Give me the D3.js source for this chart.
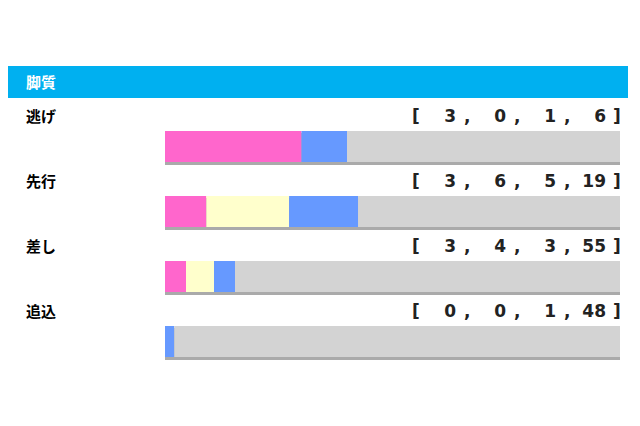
<!DOCTYPE html>
<html><head><meta charset="utf-8">
<script src="https://cdn.jsdelivr.net/npm/d3@7"></script>
<style>body{margin:0;background:#fff}</style>
</head><body>
<svg width="640" height="426"></svg>
<script>
const categories = ["逃げ", "先行", "差し", "追込"]
const first = [3, 3, 3, 0]
const second = [0, 6, 4, 0]
const third = [1, 5, 3, 1]
const other = [6, 19, 55, 48]
const colors = ["#ff66cc", "#ffffcc", "#6699ff", "#d3d3d3"]

const svg = d3.select('svg')
const font = "'DejaVu Sans', Verdana, sans-serif"

svg.append('rect').attr('x', 8).attr('y', 66).attr('width', 620).attr('height', 32).attr('fill', '#00b0f0')
svg.append('text').attr('x', 26).attr('y', 88).text('脚質')
  .attr('fill', '#fff').attr('font-weight', 'bold').attr('font-size', 15).attr('font-family', "'Noto Sans CJK JP'")

const rows = categories.map((c, i) => ({name: c, vals: [first[i], second[i], third[i], other[i]]}))
const y = d3.scaleBand().domain(categories).range([100, 360]).paddingInner(0)

rows.forEach(r => {
  const top = y(r.name)
  const total = d3.sum(r.vals)
  const x = d3.scaleLinear().domain([0, total]).range([165, 620])
  const g = svg.append('g')
  g.append('text').attr('x', 26).attr('y', top + 22).text(r.name)
    .attr('font-weight', 'bold').attr('font-size', 15).attr('font-family', "'Noto Sans CJK JP'")
  // value text
  const tf = g.append('g').attr('font-family', font).attr('font-weight', 'bold').attr('font-size', 17).attr('fill', '#222')
  tf.append('text').attr('x', 412).attr('y', top + 22).text('[')
  const numX = [456, 506, 556, 606]
  r.vals.forEach((v, j) => {
    tf.append('text').attr('x', numX[j]).attr('y', top + 22).attr('text-anchor', 'end').text(v)
    if (j < 3) tf.append('text').attr('x', numX[j] + 8).attr('y', top + 22).text(',')
  })
  tf.append('text').attr('x', 613).attr('y', top + 22).text(']')
  // stacked bar
  const stack = d3.cumsum(r.vals)
  g.append('rect').attr('x', 165).attr('y', top + 33).attr('width', 455).attr('height', 32).attr('fill', '#aaa')
  g.selectAll('.seg').data(r.vals.map((v, j) => ({v, j, s: stack[j] - v})))
    .enter().append('rect').attr('class', 'seg')
    .attr('x', d => x(d.s)).attr('width', d => x(d.s + d.v) - x(d.s))
    .attr('y', top + 31).attr('height', 31)
    .attr('fill', d => colors[d.j])
})
</script>
</body></html>
